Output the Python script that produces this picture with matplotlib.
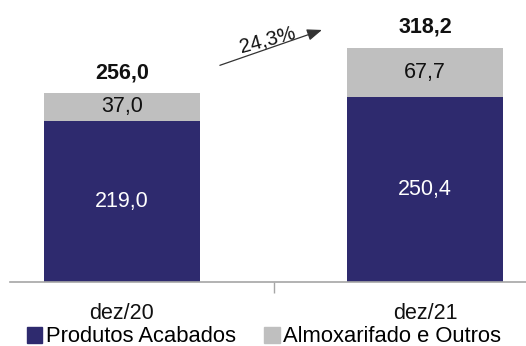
import matplotlib
matplotlib.use("Agg")
import matplotlib.pyplot as plt
from matplotlib.patches import Patch

categories = ["dez/20", "dez/21"]
produtos_acabados = [219.0, 250.4]
almoxarifado_outros = [37.0, 67.7]
totals = [256.0, 318.2]
growth_label = "24,3%"
series_names = ["Produtos Acabados", "Almoxarifado e Outros"]

navy = "#2E2A6E"
grey = "#BFBFBF"

plt.rcParams["font.family"] = ["Liberation Sans", "DejaVu Sans"]

W, H = 526, 346
fig = plt.figure(figsize=(W / 100, H / 100), dpi=100)
# axes: left edge at 10px, baseline at 282px from top
ax = fig.add_axes([10 / W, (H - 282) / H, (W - 10) / W, 282 / H])

x = list(range(len(categories)))
bw = 0.515
ax.bar(x, produtos_acabados, width=bw, color=navy, zorder=2)
ax.bar(x, almoxarifado_outros, width=bw, bottom=produtos_acabados, color=grey, zorder=2)

ax.set_xlim(-112 / 303, (W - 122) / 303)
ax.set_ylim(0, 282 / 0.737)

fs = 15.5
for i in x:
    ax.text(i, produtos_acabados[i] / 2, f"{produtos_acabados[i]:.1f}".replace(".", ","),
            ha="center", va="center", color="white", fontsize=fs)
    ax.text(i, produtos_acabados[i] + almoxarifado_outros[i] / 2,
            f"{almoxarifado_outros[i]:.1f}".replace(".", ","),
            ha="center", va="center", color="#111111", fontsize=fs)
    ax.text(i, totals[i] + 28, f"{totals[i]:.1f}".replace(".", ","),
            ha="center", va="center", color="#111111", fontsize=fs, fontweight="bold")

# growth arrow between the two totals
ax.annotate("", xy=(0.66, 342), xytext=(0.323, 294),
            arrowprops=dict(arrowstyle="-|>,head_length=0.9,head_width=0.35",
                            color="#333333", lw=0.9, shrinkA=0, shrinkB=0))
ax.text(0.48, 329, growth_label, ha="center", va="center", fontsize=fs - 1,
        rotation=15, color="#111111")

for s in ["top", "right", "left"]:
    ax.spines[s].set_visible(False)
ax.spines["bottom"].set_color("#A6A6A6")
ax.spines["bottom"].set_linewidth(1.2)
ax.set_yticks([])
ax.set_xticks(x)
ax.set_xticklabels(categories, fontsize=fs, color="#111111")
ax.tick_params(axis="x", which="major", length=0, pad=15)
ax.set_xticks([0.5], minor=True)
ax.tick_params(axis="x", which="minor", length=8, color="#A6A6A6", width=1)

handles = [Patch(color=navy), Patch(color=grey)]
fig.legend(handles, series_names, loc="center", bbox_to_anchor=(264 / W, (H - 337) / H),
           ncol=2, frameon=False, fontsize=15.8, handlelength=0.7, handleheight=0.7,
           handletextpad=0.15, columnspacing=1.3, borderpad=0)

fig.savefig("out.png", dpi=100)
